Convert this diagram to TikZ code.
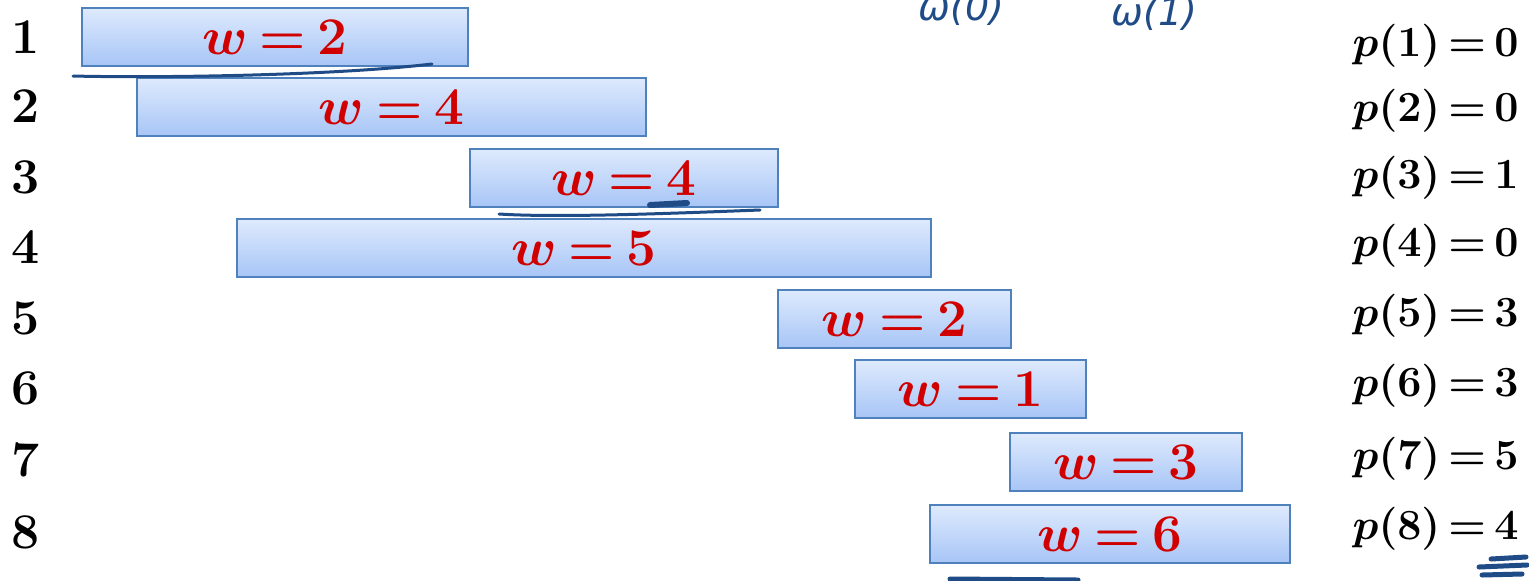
\RequirePackage{fix-cm}
\documentclass[tikz,border=0pt]{standalone}
\usepackage{fontspec}
\newfontfamily\handfont{DejaVu Sans}
\definecolor{boxtop}{HTML}{DEEAFD}
\definecolor{boxbot}{HTML}{A7C5F6}
\definecolor{boxline}{HTML}{4F81BD}
\definecolor{wred}{HTML}{D00000}
\definecolor{ink}{HTML}{1F4B86}
\tikzset{
  job/.style={draw=boxline, line width=0.8pt, top color=boxtop, bottom color=boxbot,
    inner sep=0pt, text=wred, font={\fontsize{26.5}{30}\selectfont\boldmath\thickmuskip=3.5mu}},
  rowno/.style={font={\fontsize{25}{28}\selectfont\bfseries}, inner sep=0pt},
  plabel/.style={anchor=east, inner sep=0pt, font={\fontsize{21.5}{24}\selectfont\boldmath\thickmuskip=3mu}},
  hand/.style={draw=ink, line width=1.5pt, line cap=round, line join=round},
  handtext/.style={text=ink, inner sep=0pt, anchor=base west, font={\handfont\fontsize{19}{22}\selectfont}}
}
\begin{document}
\begin{tikzpicture}[x=0.5pt,y=-0.5pt]
\useasboundingbox (0,0) rectangle (1529,580);
\clip (0,0) rectangle (1529,580);

% interval boxes: index / left / right / centre y / weight
\foreach \i/\xa/\xb/\yc/\wt in {1/82/468/37/2, 2/137/646/107/4, 3/470/778/178/4,
  4/237/931/248/5, 5/778/1011/319/2, 6/855/1086/389/1, 7/1010/1242/462/3, 8/930/1290/534/6}{
  \pgfmathsetmacro{\xc}{(\xa+\xb)/2}
  \pgfmathsetmacro{\bw}{(\xb-\xa)*0.5}
  \node[job, minimum width=\bw pt, minimum height=29pt] (b\i) at (\xc,\yc) {$w=\wt$};
}

% row numbers
\foreach \i/\yc in {1/37, 2/106, 3/177, 4/247, 5/318, 6/388, 7/460, 8/532}{
  \node[rowno] (n\i) at (26,\yc) {\i};
}

% predecessor values
\foreach \i/\pv/\yc in {1/0/46, 2/0/111, 3/1/178, 4/0/246, 5/3/316, 6/3/386, 7/5/459, 8/4/529}{
  \node[plabel] (p\i) at (1519,\yc) {$p(\i)=\pv$};
}

% handwritten notes
\node[handtext] (h0) at (918,20) {\itshape ω(0)};
\node[handtext] (h1) at (1111,25) {\itshape ω(1)};

\path[hand] (73,76) .. controls (150,78) and (330,76) .. (432,64);
\path[hand] (499,214) .. controls (560,218) and (680,213) .. (760,210);
\path[hand, line width=3pt] (650,205) -- (687,203);
\path[hand, line width=2.5pt] (950,579) -- (1078,580);
\path[hand, line width=2.5pt] (1491,559) -- (1526,557);
\path[hand, line width=2.5pt] (1479,567) -- (1527,565);
\path[hand, line width=2.5pt] (1482,575) -- (1522,574);
\end{tikzpicture}
\end{document}
